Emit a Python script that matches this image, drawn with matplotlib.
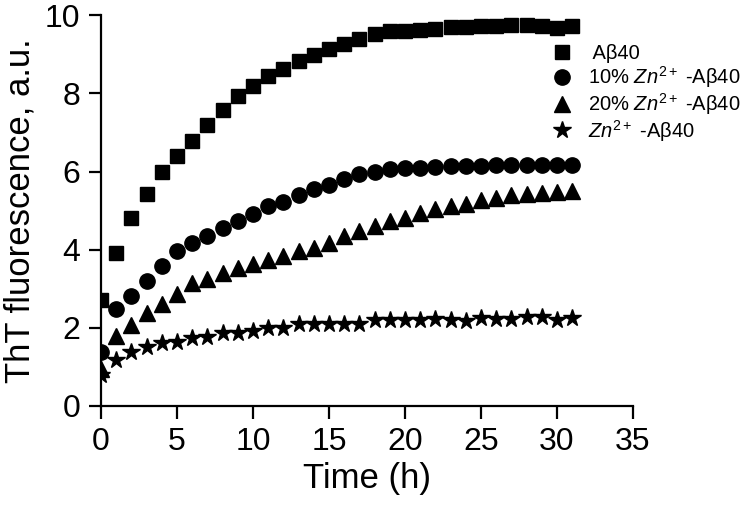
import matplotlib
matplotlib.use("Agg")
import matplotlib.pyplot as plt

plt.rcParams['font.family'] = ['Liberation Sans', 'DejaVu Sans']
plt.rcParams['mathtext.fontset'] = 'custom'
plt.rcParams['mathtext.rm'] = 'Liberation Sans'
plt.rcParams['mathtext.it'] = 'Liberation Sans:italic'

time_h = list(range(32))
abeta40 = [2.7, 3.92, 4.81, 5.42, 6.0, 6.4, 6.77, 7.18, 7.58, 7.94, 8.19, 8.45, 8.63, 8.83,
           8.98, 9.13, 9.26, 9.39, 9.52, 9.59, 9.6, 9.62, 9.64, 9.69, 9.69, 9.72, 9.72,
           9.75, 9.75, 9.72, 9.67, 9.72]
zn10 = [1.37, 2.49, 2.82, 3.2, 3.59, 3.97, 4.17, 4.35, 4.55, 4.73, 4.91, 5.11, 5.22, 5.39,
        5.55, 5.65, 5.8, 5.93, 6.0, 6.06, 6.08, 6.1, 6.12, 6.13, 6.14, 6.14, 6.16, 6.16,
        6.16, 6.16, 6.16, 6.16]
zn20 = [0.95, 1.8, 2.06, 2.37, 2.62, 2.87, 3.15, 3.25, 3.41, 3.54, 3.64, 3.74, 3.84, 3.97,
        4.05, 4.17, 4.35, 4.48, 4.61, 4.73, 4.81, 4.94, 5.04, 5.11, 5.16, 5.27, 5.32,
        5.39, 5.42, 5.45, 5.47, 5.5]
zn100 = [0.8, 1.17, 1.37, 1.5, 1.6, 1.63, 1.73, 1.76, 1.86, 1.88, 1.93, 2.0, 2.0, 2.1,
         2.1, 2.1, 2.1, 2.1, 2.2, 2.2, 2.2, 2.2, 2.23, 2.2, 2.18, 2.24, 2.23, 2.23,
         2.27, 2.27, 2.2, 2.24]

labels = [' A\u03b240',
          '10% $Zn^{2+}$ -A\u03b240',
          '20% $Zn^{2+}$ -A\u03b240',
          '$Zn^{2+}$ -A\u03b240']

fig = plt.figure(figsize=(7.5, 5.08), dpi=100)
ax = fig.add_axes([0.1347, 0.2008, 0.7093, 0.7692])

ax.plot(time_h, abeta40, 's', color='black', markersize=9.5, label=labels[0])
ax.plot(time_h, zn10, 'o', color='black', markersize=11, label=labels[1])
ax.plot(time_h, zn20, '^', color='black', markersize=11.5, label=labels[2])
ax.plot(time_h, zn100, '*', color='black', markersize=13, label=labels[3])

ax.set_xlim(0, 35)
ax.set_ylim(0, 10)
ax.set_xticks(range(0, 36, 5))
ax.set_yticks(range(0, 11, 2))
for s in ['top', 'right']:
    ax.spines[s].set_visible(False)
for s in ['left', 'bottom']:
    ax.spines[s].set_linewidth(1.6)
ax.tick_params(direction='out', length=9, width=1.6, labelsize=23, pad=6)

ax.set_xlabel('Time (h)', fontsize=25, labelpad=4)
ax.set_ylabel('ThT fluorescence, a.u.', fontsize=25, labelpad=6)

leg = ax.legend(loc='upper left', bbox_to_anchor=(0.835, 0.947), frameon=False,
                fontsize=14.5, handlelength=0.9, handletextpad=0.8, labelspacing=0.05,
                borderaxespad=0)

fig.savefig('out.png', dpi=100)
